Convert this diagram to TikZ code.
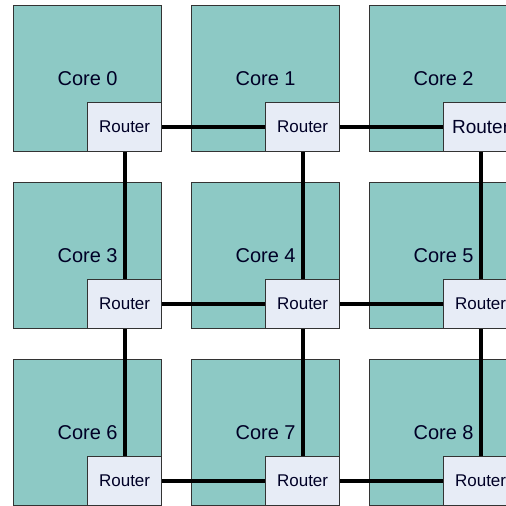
\documentclass[tikz,border=0pt]{standalone}
\usepackage{fontspec}
\setmainfont{Liberation Sans}
\definecolor{corefill}{HTML}{8DC9C5}
\definecolor{routerfill}{HTML}{E7ECF6}
\definecolor{edgegray}{HTML}{333333}
\begin{document}
\begin{tikzpicture}[x=1pt,y=1pt,
  corebox/.style={draw=edgegray, line width=1.2pt, fill=corefill, minimum width=148pt, minimum height=146pt, inner sep=0pt, anchor=north west, font=\fontsize{20}{24}\selectfont, text=black!85!blue},
  routerbox/.style={draw=edgegray, line width=1.2pt, fill=routerfill, minimum width=74pt, minimum height=49pt, inner sep=0pt, anchor=south east, font=\fontsize{17}{20}\selectfont, text=black!85!blue},
  link/.style={line width=4pt, black}]
\useasboundingbox (0,0) rectangle (506,-506);
\fill[white] (0,0) rectangle (506,-506);
% cores
\node[corebox] (c0) at (13,-5) {Core 0};
\node[corebox] (c1) at (191,-5) {Core 1};
\node[corebox] (c2) at (369,-5) {Core 2};
\node[corebox] (c3) at (13,-182) {Core 3};
\node[corebox] (c4) at (191,-182) {Core 4};
\node[corebox] (c5) at (369,-182) {Core 5};
\node[corebox] (c6) at (13,-359) {Core 6};
\node[corebox] (c7) at (191,-359) {Core 7};
\node[corebox] (c8) at (369,-359) {Core 8};
% routers
\foreach \i in {0,...,8}{
  \node[routerbox] (r\i) at (c\i.south east) {\ifnum\i=2 \fontsize{19}{22}\selectfont\fi Router};
}
% links
\draw[link] (r0.east) -- (r1.west);
\draw[link] (r1.east) -- (r2.west);
\draw[link] (r3.east) -- (r4.west);
\draw[link] (r4.east) -- (r5.west);
\draw[link] (r6.east) -- (r7.west);
\draw[link] (r7.east) -- (r8.west);
\draw[link] (r0.south) -- (r3.north);
\draw[link] (r3.south) -- (r6.north);
\draw[link] (r1.south) -- (r4.north);
\draw[link] (r4.south) -- (r7.north);
\draw[link] (r2.south) -- (r5.north);
\draw[link] (r5.south) -- (r8.north);
\end{tikzpicture}
\end{document}
